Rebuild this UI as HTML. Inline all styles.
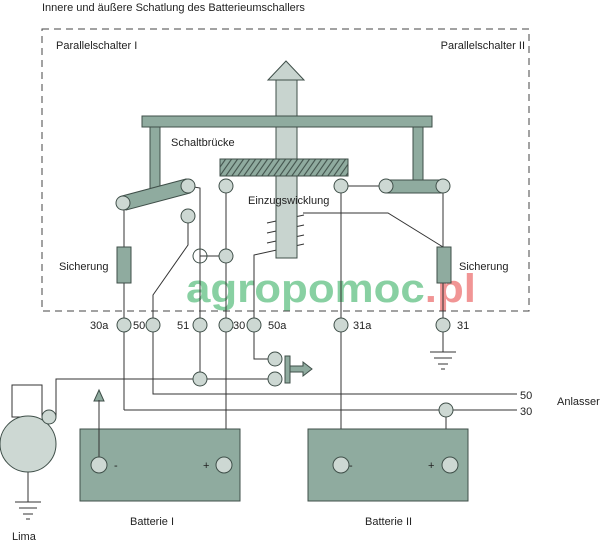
<!DOCTYPE html>
<html><head><meta charset="utf-8"><style>
html,body{margin:0;padding:0;background:#fff;}
svg{display:block;font-family:"Liberation Sans",sans-serif;}
</style></head><body>
<svg width="600" height="543" viewBox="0 0 600 543" xmlns="http://www.w3.org/2000/svg">
<defs>
<pattern id="h" width="6" height="20" patternUnits="userSpaceOnUse" patternTransform="skewX(-35)">
<rect width="6" height="20" fill="#8fab9f"/><line x1="1" y1="0" x2="1" y2="20" stroke="#3f4f49" stroke-width="1.3"/>
</pattern>
</defs>
<rect x="42" y="29" width="487" height="282" fill="none" stroke="#444" stroke-width="1" stroke-dasharray="7,5"/>
<!-- watermark -->
<text x="186" y="302" font-size="40" font-weight="bold" fill="#7ccc99" opacity="0.9" textLength="290" lengthAdjust="spacingAndGlyphs">agropomoc<tspan fill="#f08a8a">.pl</tspan></text>
<g fill="none" stroke="#333" stroke-width="1">
<line x1="124" y1="203" x2="124" y2="410"/><line x1="124" y1="410" x2="517" y2="410"/>
<polyline points="188,216 188,245 153,295 153,394 517,394"/>
<polyline points="188,186 200,188 200,379"/>
<line x1="226" y1="186" x2="226" y2="465"/>
<line x1="200" y1="256" x2="226" y2="256"/>
<polyline points="304,244 254,255 254,359 275,359"/>
<polyline points="303,213 388,213 443,247"/>
<line x1="341" y1="186" x2="341" y2="465"/>
<line x1="341" y1="186" x2="386" y2="186"/>
<line x1="443" y1="186" x2="443" y2="352"/>
<polyline points="56,417 56,379 275,379"/>
<polyline points="28,417 12,417 12,385 42,385 42,417"/>
<line x1="28" y1="472" x2="28" y2="502"/>
<line x1="446" y1="410" x2="446" y2="465"/>
<line x1="267" y1="223" x2="304" y2="215"/><line x1="267" y1="233" x2="304" y2="225"/><line x1="267" y1="243" x2="304" y2="235"/>
<line x1="430" y1="352" x2="456" y2="352"/><line x1="434" y1="358" x2="452" y2="358"/><line x1="438" y1="364" x2="448" y2="364"/><line x1="441" y1="369" x2="445" y2="369"/>
<line x1="15" y1="502" x2="41" y2="502"/><line x1="19" y1="508" x2="37" y2="508"/><line x1="23" y1="514" x2="33" y2="514"/><line x1="26" y1="519" x2="30" y2="519"/>
</g>
<g stroke="#3f4f49" stroke-width="1" fill="#8fab9f">
<rect x="276" y="80" width="21" height="178" fill="#c8d4cf"/>
<polygon points="286,61 268,80 304,80" fill="#c8d4cf"/>
<rect x="142" y="116" width="290" height="11"/>
<rect x="150" y="127" width="10" height="62"/>
<rect x="413" y="127" width="10" height="54"/>
<rect x="220" y="159" width="128" height="17" fill="url(#h)"/>
<polygon points="122,196 186,179 190,193 126,210"/>
<rect x="386" y="180" width="57" height="13"/>
<rect x="117" y="247" width="14" height="36"/>
<rect x="437" y="247" width="14" height="36"/>
<rect x="80" y="429" width="160" height="72"/>
<rect x="308" y="429" width="160" height="72"/>
<rect x="285" y="356" width="5" height="27"/>
<polygon points="290,366 303,366 303,362 312,369 303,376 303,372 290,372"/>
<polygon points="99,390 94,401 104,401"/>
</g>
<line x1="99" y1="465" x2="99" y2="400" stroke="#333" stroke-width="1"/>
<g stroke="#3f4f49" stroke-width="1" fill="#cdd8d3">
<circle cx="123" cy="203" r="7"/><circle cx="188" cy="186" r="7"/>
<circle cx="386" cy="186" r="7"/><circle cx="443" cy="186" r="7"/>
<circle cx="226" cy="186" r="7"/><circle cx="341" cy="186" r="7"/>
<circle cx="188" cy="216" r="7"/><circle cx="226" cy="256" r="7"/>
<circle cx="200" cy="256" r="7" fill="none"/>
<circle cx="124" cy="325" r="7"/><circle cx="153" cy="325" r="7"/><circle cx="200" cy="325" r="7"/>
<circle cx="226" cy="325" r="7"/><circle cx="254" cy="325" r="7"/><circle cx="341" cy="325" r="7"/><circle cx="443" cy="325" r="7"/>
<circle cx="200" cy="379" r="7"/><circle cx="275" cy="359" r="7"/><circle cx="275" cy="379" r="7"/>
<circle cx="446" cy="410" r="7"/>
<circle cx="28" cy="444" r="28"/><circle cx="49" cy="417" r="7"/>
<circle cx="99" cy="465" r="8"/><circle cx="224" cy="465" r="8"/>
<circle cx="341" cy="465" r="8"/><circle cx="450" cy="465" r="8"/>
</g>
<g font-size="11" fill="#222">
<text x="42" y="11">Innere und äußere Schatlung des Batterieumschallers</text>
<text x="56" y="49">Parallelschalter I</text>
<text x="525" y="49" text-anchor="end">Parallelschalter II</text>
<text x="171" y="146">Schaltbrücke</text>
<text x="248" y="204">Einzugswicklung</text>
<text x="59" y="270">Sicherung</text>
<text x="459" y="270">Sicherung</text>
<text x="90" y="329">30a</text><text x="133" y="329">50</text><text x="177" y="329">51</text>
<text x="233" y="329">30</text><text x="268" y="329">50a</text><text x="353" y="329">31a</text><text x="457" y="329">31</text>
<text x="520" y="399">50</text><text x="520" y="415">30</text><text x="557" y="405">Anlasser</text>
<text x="130" y="525">Batterie I</text><text x="365" y="525">Batterie II</text>
<text x="12" y="540">Lima</text>
<text x="114" y="469">-</text><text x="203" y="469">+</text>
<text x="349" y="469">-</text><text x="428" y="469">+</text>
</g>
</svg>
</body></html>
